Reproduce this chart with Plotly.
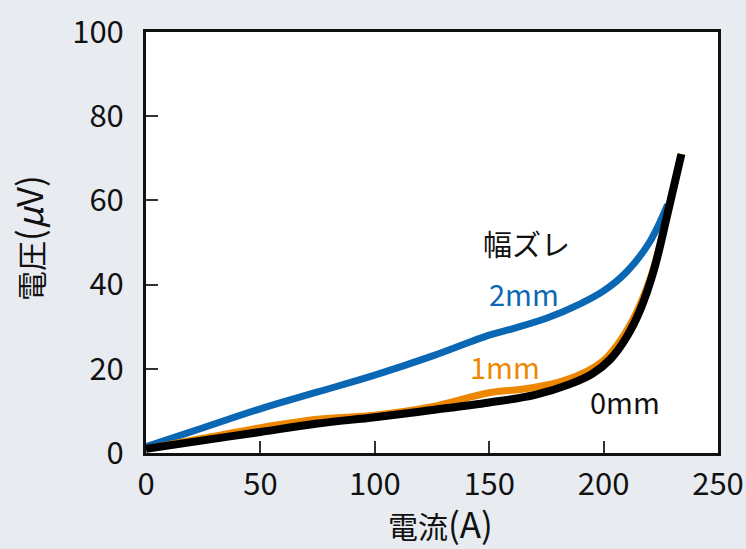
import plotly.graph_objects as go

x_2mm = [0, 25, 50, 75, 100, 125, 150, 160, 175, 190, 200, 210, 220, 228]
y_2mm = [1.5, 6, 10.5, 14.5, 18.5, 23, 28, 29.5, 32, 35.5, 38.5, 43, 50, 59]

x_1mm = [0, 25, 50, 75, 100, 125, 150, 165, 180, 190, 200, 207, 214, 221, 228, 234]
y_1mm = [1, 3.5, 6, 8, 9, 11, 14.3, 15.2, 16.8, 18.7, 22, 26.5, 33, 42.5, 57, 71]

x_0mm = [0, 25, 50, 75, 100, 125, 150, 170, 185, 195, 203, 210, 216, 222, 228, 234]
y_0mm = [1, 3, 5, 7, 8.5, 10.2, 12, 13.8, 16.3, 18.8, 22.3, 27.5, 34, 43.5, 57, 71]

x_ticks = [0, 50, 100, 150, 200, 250]
y_ticks = [0, 20, 40, 60, 80, 100]

FONT = "Noto Sans CJK JP"
BG = "#e8ecf1"
INK = "#111111"

fig = go.Figure()
fig.add_trace(go.Scatter(x=x_2mm, y=y_2mm, mode="lines", line=dict(color="#0a67b3", width=7, shape="spline"), showlegend=False))
fig.add_trace(go.Scatter(x=x_1mm, y=y_1mm, mode="lines", line=dict(color="#ee8700", width=7, shape="spline"), showlegend=False))
fig.add_trace(go.Scatter(x=x_0mm, y=y_0mm, mode="lines", line=dict(color="#000000", width=8, shape="spline"), showlegend=False))

fig.add_annotation(x=166.5, y=49.9, text="幅ズレ", showarrow=False, font=dict(family=FONT, size=29, color=INK))
fig.add_annotation(x=165.2, y=38, text="2mm", showarrow=False, font=dict(family=FONT, size=29, color="#0a67b3"))
fig.add_annotation(x=157, y=20.7, text="1mm", showarrow=False, font=dict(family=FONT, size=29, color="#ee8700"))
fig.add_annotation(x=209.4, y=12.4, text="0mm", showarrow=False, font=dict(family=FONT, size=29, color=INK))

# axis titles as annotations (fixed positions)
fig.add_annotation(xref="paper", yref="paper", x=0.514, y=-0.164, xanchor="center", yanchor="middle",
                   text="電流<span style='font-size:35px'>(A)</span>",
                   showarrow=False, font=dict(family=FONT, size=30, color=INK))
fig.add_annotation(xref="paper", yref="paper", x=-0.207, y=0.51, xanchor="center", yanchor="middle",
                   textangle=-90, text="電圧<span style='font-size:35px'>(<i>μ</i>V)</span>",
                   showarrow=False, font=dict(family=FONT, size=30, color=INK))

axis_common = dict(
    showgrid=False, zeroline=False, showline=True, linecolor=INK, linewidth=3,
    mirror=True, ticks="inside", ticklen=12, tickwidth=1.5, tickcolor="#333333",
    tickfont=dict(family=FONT, size=31, color=INK), automargin=False,
)
fig.update_xaxes(range=[0, 250], tickvals=x_ticks, ticktext=[str(v) for v in x_ticks],
                 ticklabelstandoff=2, **axis_common)
fig.update_yaxes(range=[0, 100], tickvals=y_ticks, ticktext=[str(v) for v in y_ticks],
                 ticklabelstandoff=13, **axis_common)

fig.update_layout(
    width=746, height=549, paper_bgcolor=BG, plot_bgcolor="#ffffff",
    margin=dict(l=146, r=28, t=32, b=96),
    font=dict(family=FONT),
)
fig.write_html("out.html", config={"displayModeBar": False},
               post_script="document.body.style.margin='0';document.body.style.background='" + BG + "';")
